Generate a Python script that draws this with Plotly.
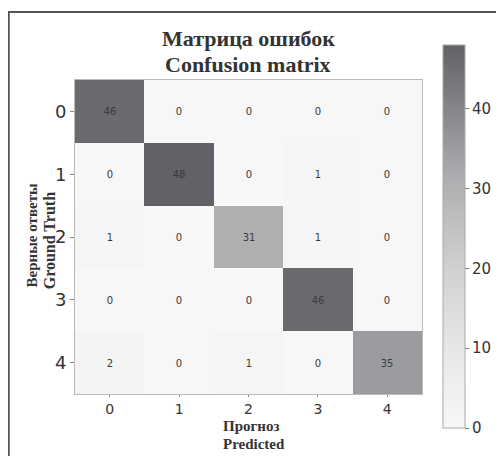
import plotly.graph_objects as go

classes = ["0", "1", "2", "3", "4"]
matrix = [
    [46, 0, 0, 0, 0],
    [0, 48, 0, 1, 0],
    [1, 0, 31, 1, 0],
    [0, 0, 0, 46, 0],
    [2, 0, 1, 0, 35],
]
cbar_ticks = [0, 10, 20, 30, 40]

# page body has an 8px margin; work in page coordinates
OFF = 8
PL, PR, PT, PB = 75, 426, 80, 394          # plot area in page pixels
W, H = 504 - OFF, 456 - OFF
L, T = PL - OFF, PT - OFF
R, B = W - (PR - OFF), H - (PB - OFF)
pw, ph = PR - PL, PB - PT

def px(x):
    return (x - PL) / pw

def py(y):
    return (PB - y) / ph

colorscale = [
    [0.0, "#f7f7f7"],
    [0.2, "#e8e8e9"],
    [0.42, "#d0d0d2"],
    [0.646, "#afafb2"],
    [0.73, "#9c9ca0"],
    [0.958, "#6a6a6f"],
    [1.0, "#616167"],
]

fig = go.Figure(go.Heatmap(
    z=matrix, x=classes, y=classes,
    zmin=0, zmax=48,
    colorscale=colorscale,
    text=matrix, texttemplate="%{text}",
    textfont=dict(family="DejaVu Sans", size=10, color="#3a3a3a"),
    colorbar=dict(
        x=px(447), xanchor="left", xpad=0,
        y=py(236.5), yanchor="middle", ypad=0,
        thickness=22, thicknessmode="pixels",
        len=383, lenmode="pixels",
        outlinecolor="#aaaaaa", outlinewidth=1,
        tickvals=cbar_ticks, ticks="outside", ticklen=4, tickcolor="#777777",
        tickfont=dict(family="DejaVu Sans", size=15, color="#333333"),
    ),
    hoverinfo="skip",
))

fig.update_xaxes(
    type="category", showgrid=False, zeroline=False,
    ticks="outside", ticklen=2, tickcolor="#888888",
    tickfont=dict(family="DejaVu Sans", size=14, color="#333333"),
    showline=True, linecolor="#bbbbbb", mirror=True,
)
fig.update_yaxes(
    type="category", autorange="reversed", showgrid=False, zeroline=False,
    ticks="outside", ticklen=4, tickcolor="#888888",
    tickfont=dict(family="DejaVu Sans", size=18, color="#333333"),
    showline=True, linecolor="#bbbbbb", mirror=True,
)

def label(text, x, y, size, angle=0):
    fig.add_annotation(
        text=text, xref="paper", yref="paper", x=px(x), y=py(y),
        xanchor="center", yanchor="middle", showarrow=False, textangle=angle,
        font=dict(family="Liberation Serif", size=size, color="#333333"),
    )

label("<b>Матрица ошибок</b>", 250, 38, 22)
label("<b>Confusion matrix</b>", 250, 65, 22)
label("<b>Прогноз</b>", 254, 426, 15)
label("<b>Predicted</b>", 256, 444, 15)
label("<b>Верные ответы</b>", 31, 235, 15, -90)
label("<b>Ground Truth</b>", 49, 241, 16, -90)

fig.add_shape(
    type="rect", xref="paper", yref="paper",
    x0=px(8), x1=px(530), y0=py(480), y1=py(12),
    line=dict(color="#555555", width=2), fillcolor="rgba(0,0,0,0)",
)

fig.update_layout(
    width=W, height=H,
    margin=dict(l=L, r=R, t=T, b=B, pad=0),
    paper_bgcolor="white", plot_bgcolor="white",
    showlegend=False,
)

fig.write_html("out.html")
